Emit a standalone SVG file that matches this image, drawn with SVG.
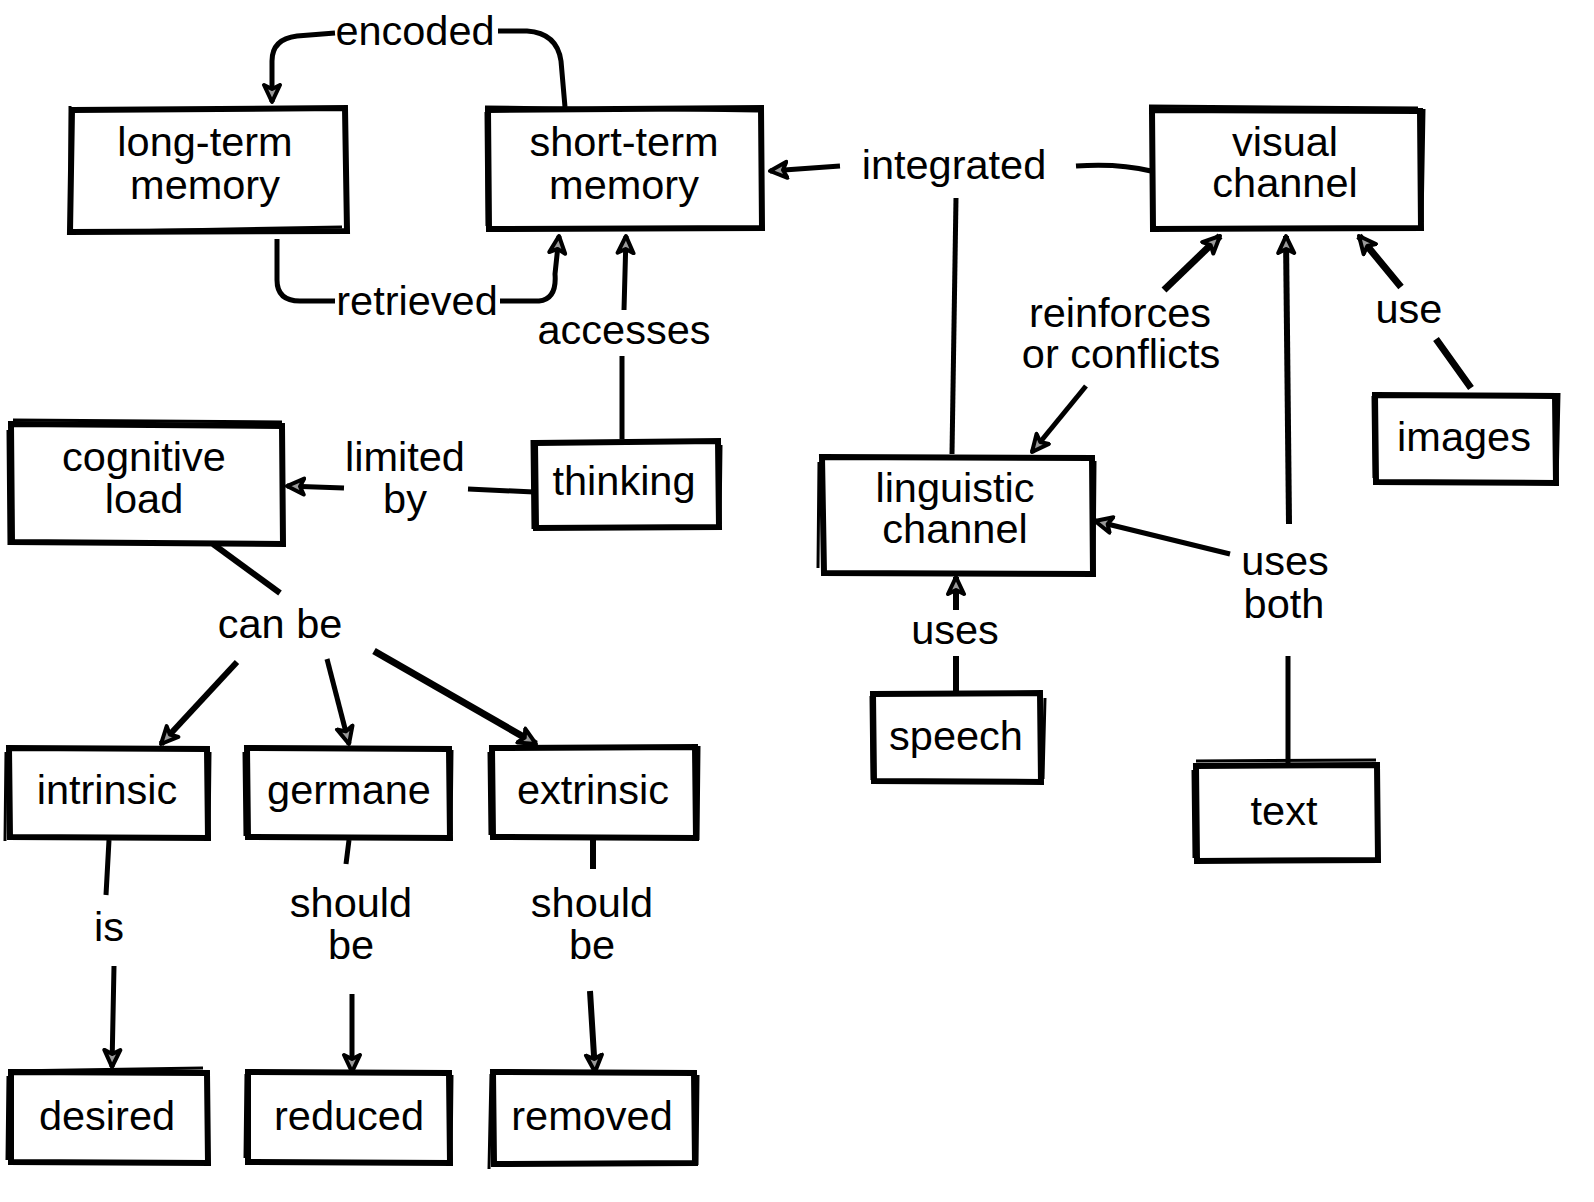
<svg xmlns="http://www.w3.org/2000/svg" width="1594" height="1202" viewBox="0 0 1594 1202">
<defs>
<style>
.t{font-family:"Liberation Sans",Arial,Helvetica,sans-serif;font-size:41.5px;fill:#000;text-anchor:middle}
.b{fill:#fff;stroke:#000;stroke-width:6;stroke-linejoin:miter}
.b2{fill:none;stroke:#000;stroke-width:3}
.c{fill:none;stroke:#000;stroke-width:5;stroke-linecap:butt;stroke-linejoin:round}
.a{marker-end:url(#ah)}
</style>
<marker id="ah" viewBox="0 0 22 22" refX="19" refY="11" markerWidth="22" markerHeight="22" markerUnits="userSpaceOnUse" orient="auto">
<path d="M2,3 L19,11 L2,19 L6,11 Z" fill="#9a9a9a" stroke="#000" stroke-width="4" stroke-linejoin="round"/>
</marker>
</defs>
<rect width="1594" height="1202" fill="#fff"/>

<g id="connectors">
<path class="c a" d="M565,107 L561,61 Q557,33 527,31 L498,31 M335,33 L297,36 Q272,39 272,61 L272,102"/>
<path class="c a" d="M277,239 L277,280 Q277,301 300,301 L335,301 M500,301 L539,301 Q557,299 555,274 L559,236"/>
<path class="c a" d="M622,439 L622,356 M624,310 L626,236"/>
<path class="c a" d="M1151,171 Q1118,163 1076,166 M840,166 L770,171"/>
<path class="c" d="M952,454 L956,198"/>
<path class="c a" d="M534,492 L468,489 M344,488 L287,486"/>
<path class="c" style="stroke-width:6" d="M213,544 L280,593"/>
<path class="c a" style="stroke-width:6" d="M237,662 L161,744"/>
<path class="c a" d="M327,659 L349,744"/>
<path class="c a" style="stroke-width:7" d="M374,651 L536,744"/>
<path class="c a" d="M109,840 L106,895 M114,966 L112,1067"/>
<path class="c a" d="M349,840 L346,864 M352,994 L352,1072"/>
<path class="c a" style="stroke-width:6" d="M593,840 L593,869 M590,991 L595,1072"/>
<path class="c a" style="stroke-width:7" d="M1164,290 L1220,236"/>
<path class="c a" d="M1086,386 L1032,452"/>
<path class="c a" style="stroke-width:7" d="M1471,388 L1436,339 M1401,287 L1359,236"/>
<path class="c" d="M1288,764 L1288,656"/>
<path class="c a" d="M1230,554 L1095,521"/>
<path class="c a" style="stroke-width:6" d="M1289,524 L1286,236"/>
<path class="c a" style="stroke-width:6" d="M956,693 L956,656 M956,610 L956,577"/>
</g>

<g id="labels">
<text class="t" x="415" y="45">encoded</text>
<text class="t" x="417" y="315">retrieved</text>
<text class="t" x="624" y="344">accesses</text>
<text class="t" x="954" y="179">integrated</text>
<text class="t" x="1120" y="327">reinforces<tspan x="1121" dy="41">or conflicts</tspan></text>
<text class="t" x="1409" y="323">use</text>
<text class="t" x="405" y="471">limited<tspan x="405" dy="42">by</tspan></text>
<text class="t" x="280" y="638">can be</text>
<text class="t" x="955" y="644">uses</text>
<text class="t" x="1285" y="575">uses<tspan x="1284" dy="43">both</tspan></text>
<text class="t" x="109" y="941">is</text>
<text class="t" x="351" y="917">should<tspan x="351" dy="42">be</tspan></text>
<text class="t" x="592" y="917">should<tspan x="592" dy="42">be</tspan></text>
</g>

<g id="n-longterm">
<path class="b" d="M72,110 L345,108 L347,231 L70,232 Z"/>
<path class="b2" d="M70,106 L70,229 M68,232 L342,227"/>
<text class="t" x="205" y="156">long-term<tspan x="205" dy="43">memory</tspan></text>
</g>
<g id="n-shortterm">
<path class="b" d="M488,110 L761,108 L762,228 L489,229 Z"/>
<path class="b2" d="M486,112 L487,226 M485,107 L758,111"/>
<text class="t" x="624" y="156">short-term<tspan x="624" dy="43">memory</tspan></text>
</g>
<g id="n-visual">
<path class="b" d="M1152,110 L1420,111 L1421,228 L1153,229 Z"/>
<path class="b2" d="M1149,106 L1418,108 M1424,109 L1422,222"/>
<text class="t" x="1285" y="156">visual<tspan x="1285" dy="41">channel</tspan></text>
</g>
<g id="n-cognitive">
<path class="b" d="M11,424 L282,426 L283,544 L12,542 Z"/>
<path class="b2" d="M8,430 L9,545 M13,420 L282,422"/>
<text class="t" x="144" y="471">cognitive<tspan x="144" dy="42">load</tspan></text>
</g>
<g id="n-thinking">
<path class="b" d="M535,443 L718,441 L719,527 L536,528 Z"/>
<path class="b2" d="M532,440 L533,529 M721,445 L720,524"/>
<text class="t" x="624" y="495">thinking</text>
</g>
<g id="n-linguistic">
<path class="b" d="M822,457 L1092,458 L1093,574 L824,573 Z"/>
<path class="b2" d="M819,462 L818,568 M1095,461 L1094,575"/>
<text class="t" x="955" y="502">linguistic<tspan x="955" dy="41">channel</tspan></text>
</g>
<g id="n-images">
<path class="b" d="M1375,395 L1555,396 L1556,483 L1376,482 Z"/>
<path class="b2" d="M1373,396 L1374,478 M1559,393 L1557,484"/>
<text class="t" x="1464" y="451">images</text>
</g>
<g id="n-speech">
<path class="b" d="M873,694 L1040,693 L1041,782 L874,781 Z"/>
<path class="b2" d="M871,696 L872,780 M1045,698 L1043,779"/>
<text class="t" x="956" y="750">speech</text>
</g>
<g id="n-text">
<path class="b" d="M1196,766 L1377,765 L1378,860 L1197,861 Z"/>
<path class="b2" d="M1193,770 L1194,858 M1196,761 L1376,760"/>
<text class="t" x="1284" y="825">text</text>
</g>
<g id="n-intrinsic">
<path class="b" d="M9,748 L207,749 L208,838 L10,837 Z"/>
<path class="b2" d="M6,752 L5,841 M210,752 L209,839"/>
<text class="t" x="107" y="804">intrinsic</text>
</g>
<g id="n-germane">
<path class="b" d="M247,748 L449,749 L450,838 L248,837 Z"/>
<path class="b2" d="M244,752 L245,836 M452,750 L451,834"/>
<text class="t" x="349" y="804">germane</text>
</g>
<g id="n-extrinsic">
<path class="b" d="M492,748 L695,747 L696,838 L493,837 Z"/>
<path class="b2" d="M489,752 L490,835 M699,746 L698,840"/>
<text class="t" x="593" y="804">extrinsic</text>
</g>
<g id="n-desired">
<path class="b" d="M11,1072 L207,1073 L208,1163 L11,1162 Z"/>
<path class="b2" d="M9,1071 L203,1068 M8,1076 L7,1160"/>
<text class="t" x="107" y="1130">desired</text>
</g>
<g id="n-reduced">
<path class="b" d="M248,1072 L449,1073 L450,1163 L248,1162 Z"/>
<path class="b2" d="M246,1074 L245,1158 M452,1075 L451,1163"/>
<text class="t" x="349" y="1130">reduced</text>
</g>
<g id="n-removed">
<path class="b" d="M493,1072 L694,1073 L695,1163 L494,1164 Z"/>
<path class="b2" d="M491,1074 L489,1169 M698,1075 L697,1165"/>
<text class="t" x="592" y="1130">removed</text>
</g>
</svg>
